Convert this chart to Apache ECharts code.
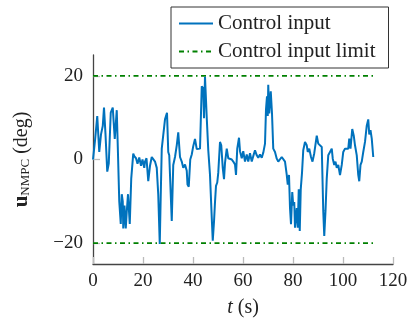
<!DOCTYPE html>
<html>
<head>
<meta charset="utf-8">
<script src="https://cdn.jsdelivr.net/npm/echarts@6/dist/echarts.min.js"></script>
<style>html,body{margin:0;padding:0;background:#fff}#c{width:414px;height:323px}</style>
</head>
<body>
<div id="c"></div>
<script>
var timeS = [0,0.8,1.7,2.5,3.2,3.9,4.4,5.0,5.7,6.3,7.1,7.9,8.7,9.5,10.0,10.5,11.1,11.5,11.9,12.1,12.6,13.1,13.5,14.0,14.7,15.3,16.1,16.5,17.2,17.8,18.5,19.2,19.8,20.5,20.8,21.4,22.1,22.8,23.5,24.2,24.8,25.5,26.1,26.7,27.1,27.5,28.1,28.8,29.6,30.1,30.5,31.2,31.5,32.1,32.8,33.5,34.1,34.8,35.5,36.1,36.8,37.5,37.8,38.3,38.9,39.5,40.1,40.8,41.5,42.1,42.8,43.5,44.1,44.4,44.8,45.2,45.5,46.1,46.8,47.5,47.9,48.4,48.8,49.2,49.7,50.1,50.8,51.3,51.9,52.4,52.8,53.5,54.1,54.8,55.5,56.1,56.8,57.2,57.7,58.4,58.8,59.5,60.1,60.8,61.5,62.1,62.8,63.5,64.1,64.8,65.5,66.1,66.8,67.5,68.1,68.8,69.2,69.6,69.9,70.1,70.5,71.1,71.6,72.1,72.8,73.5,74.1,74.8,75.5,76.1,76.8,77.5,77.9,78.4,78.8,79.2,79.7,80.1,80.5,80.8,81.5,81.9,82.3,82.7,83.1,83.6,84.1,84.8,85.5,85.9,86.5,87.2,87.8,88.5,89.5,90.1,90.8,91.5,92.1,92.5,93.0,93.5,94.1,94.8,95.5,95.9,96.5,97.0,97.5,98.1,98.8,99.5,100.1,100.8,101.5,102.1,102.5,103.0,103.7,104.3,104.8,105.5,106.1,106.5,107.0,107.5,108.1,108.8,109.5,110.1,110.5,111.0,111.5,112.1];
var controlInput = [0,4.5,10.4,1.8,6,8,12.4,6,-2.9,-1,11.2,12.4,4.9,11.8,1.2,-10,-15.4,-8.3,-10,-16.5,-11,-16.5,-12.5,-8.3,-15.4,-4.5,1.4,0.8,0.3,-1,0.5,-1.5,0,-2,-0.5,0.3,-5.2,-1.5,0.6,0.8,-0.5,-2,-8.4,-20.2,-8.4,2.6,3,9.6,11.2,1.8,1.0,-10,-14.7,-1.3,0.6,3.4,6.5,0.6,-0.5,-2,-1.2,-2.7,-6,-6.5,0,1.2,3.2,4.9,2.5,2.5,2.6,17.5,17,9.9,19.8,20,10,2.3,-3.7,-13.9,-19.4,-14.9,-10.2,-6.3,-5.5,-3.2,4.2,3.4,-2,-4.7,-0.8,2.6,0.3,0.3,0,-0.5,-1.2,-3.7,2.6,5.2,2,0.3,2,-0.5,1.2,-0.5,1.5,-0.5,0.8,2.2,1.0,0.4,1.2,0.4,1.6,3.8,12,15.1,10.4,17.9,11,16.3,11,2.6,1.8,0.2,-0.5,-0.2,0.6,0.2,-0.5,-3.7,-6,-3.7,-11.6,-15.5,-7.8,-11,-10.2,-16.3,-11.6,-16.3,-7.1,-17.1,-7.1,-3.2,2.2,4.2,3.4,1.8,2.6,0.6,-0.5,1.5,5.7,3.8,3.8,3.0,-12.3,-18.3,-12.3,-4.5,1.0,1.8,2.6,0.2,-1.3,-0.5,-2,-1.3,-3.7,-1.3,1.8,2.6,2.2,2.6,5,2.6,7.3,5.7,3.4,1.0,-3.7,-5.2,-1.3,-0.5,1.8,4.2,8.1,9.6,6,7,5,0.6];
var limitT = [0, 112];
var limitUpper = [20, 20];
var limitLower = [-20, -20];
var xTicks = [0, 20, 40, 60, 80, 100, 120];
var yTicks = [-20, 0, 20];

var serif = '"Liberation Serif", "DejaVu Serif", serif';
function pairs(xs, ys){ return xs.map(function(x,i){ return [x, ys[i]]; }); }
var dashDot = [5, 3.5, 1.5, 3.5];

var chart = echarts.init(document.getElementById('c'), null, {renderer: 'canvas'});
chart.setOption({
  animation: false,
  backgroundColor: '#fff',
  grid: {left: 93, right: 21, top: 55, bottom: 55, containLabel: false},
  legend: {
    show: true,
    orient: 'vertical', left: 171, top: 7,
    backgroundColor: '#fff',
    borderColor: '#333', borderWidth: 1,
    padding: [6, 13, 6, 7],
    itemWidth: 34, itemHeight: 14, itemGap: 7,
    itemStyle: {opacity: 0},
    textStyle: {fontFamily: serif, fontSize: 21, color: '#222'},
    data: ['Control input', 'Control input limit']
  },
  xAxis: {
    type: 'value', min: 0, max: 120, interval: 20,
    name: '{it|t} (s)', nameLocation: 'middle', nameGap: 34,
    nameTextStyle: {fontFamily: serif, fontSize: 20, color: '#222', rich: {it: {fontFamily: serif, fontStyle: 'italic', fontSize: 20, color: '#222'}}},
    axisLine: {onZero: false, lineStyle: {color: '#444', width: 1.3}},
    axisTick: {inside: true, length: 7, lineStyle: {color: '#bbb', width: 1.3}, customValues: xTicks},
    axisLabel: {fontFamily: serif, fontSize: 19, color: '#222', margin: 8, customValues: xTicks},
    splitLine: {show: false}
  },
  yAxis: {
    type: 'value', min: -25, max: 25,
    name: '{b|u}{s|NMPC} (deg)', nameLocation: 'middle', nameGap: 61, nameRotate: 90,
    nameTextStyle: {fontFamily: serif, fontSize: 20, color: '#222',
      rich: {b: {fontFamily: serif, fontWeight: 'bold', fontSize: 21, color: '#222'},
             s: {fontFamily: serif, fontSize: 13, color: '#222', padding: [8, 0, 0, 0]}}},
    axisLine: {onZero: false, lineStyle: {color: '#444', width: 1.3}},
    axisTick: {inside: true, length: 7, lineStyle: {color: '#bbb', width: 1.3}, customValues: yTicks},
    axisLabel: {fontFamily: serif, fontSize: 19, color: '#222', margin: 10, customValues: yTicks,
      formatter: function(v){ return String(v).replace('-', '\u2212'); }},
    splitLine: {show: false}
  },
  series: [
    {name: 'Control input', type: 'line', data: pairs(timeS, controlInput), showSymbol: false, symbol: 'none',
     lineStyle: {color: '#0072BD', width: 2}, itemStyle: {color: '#0072BD'}, z: 3},
    {name: 'Control input limit', type: 'line', data: pairs(limitT, limitUpper), showSymbol: false, symbol: 'none',
     lineStyle: {color: '#008000', width: 1.8, type: dashDot}, itemStyle: {color: '#008000'}, z: 2},
    {name: 'Control input limit', type: 'line', data: pairs(limitT, limitLower), showSymbol: false, symbol: 'none',
     lineStyle: {color: '#008000', width: 1.8, type: dashDot}, itemStyle: {color: '#008000'}, z: 2}
  ]
});
</script>
</body>
</html>
